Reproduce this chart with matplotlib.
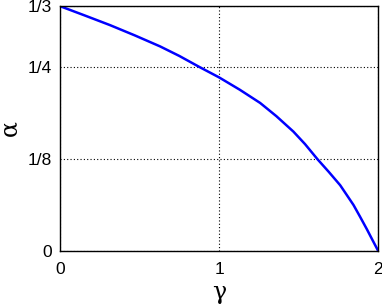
import matplotlib
matplotlib.use('Agg')
import matplotlib.pyplot as plt

plt.rcParams['font.family'] = ['Liberation Sans', 'DejaVu Sans']

# values
gamma = [0.0, 0.157, 0.314, 0.47, 0.629, 0.75, 0.876, 1.0, 1.13, 1.258, 1.36, 1.467,
         1.54, 1.618, 1.69, 1.761, 1.8, 1.845, 1.885, 1.929, 1.965, 2.0]
alpha = [0.3333, 0.3205, 0.3075, 0.2935, 0.2785, 0.2655, 0.2505, 0.2363, 0.2195, 0.2015, 0.1835, 0.1625,
         0.1455, 0.125, 0.1075, 0.0895, 0.077, 0.0625, 0.047, 0.0295, 0.0145, 0.0]

yticks = [0, 1/8, 1/4, 1/3]
ylabels = ['0', '1/8', '1/4', '1/3']
xticks = [0, 1, 2]

fig = plt.figure(figsize=(3.82, 3.06), dpi=100)
ax = fig.add_axes([0.157, 0.180, 0.833, 0.800])
ax.plot(gamma, alpha, color='#0000ff', lw=1.8)
ax.set_xlim(0, 2)
ax.set_ylim(0, 1/3)
ax.set_xticks(xticks)
ax.set_xticklabels([str(t) for t in xticks])
ax.set_yticks(yticks)
ax.set_yticklabels(ylabels)
ax.grid(True, color='black', linestyle=(0, (1, 2)), linewidth=0.8)
ax.tick_params(direction='in', length=0, labelsize=12.5)
ax.tick_params(axis='x', pad=8)
ax.tick_params(axis='y', pad=6)
for s in ax.spines.values():
    s.set_linewidth(1.0)
ax.set_xlabel('γ', fontsize=17, family='DejaVu Serif', labelpad=3)
ax.set_ylabel('α', fontsize=17, family='DejaVu Serif', labelpad=4)

fig.savefig('out.png', dpi=100)
